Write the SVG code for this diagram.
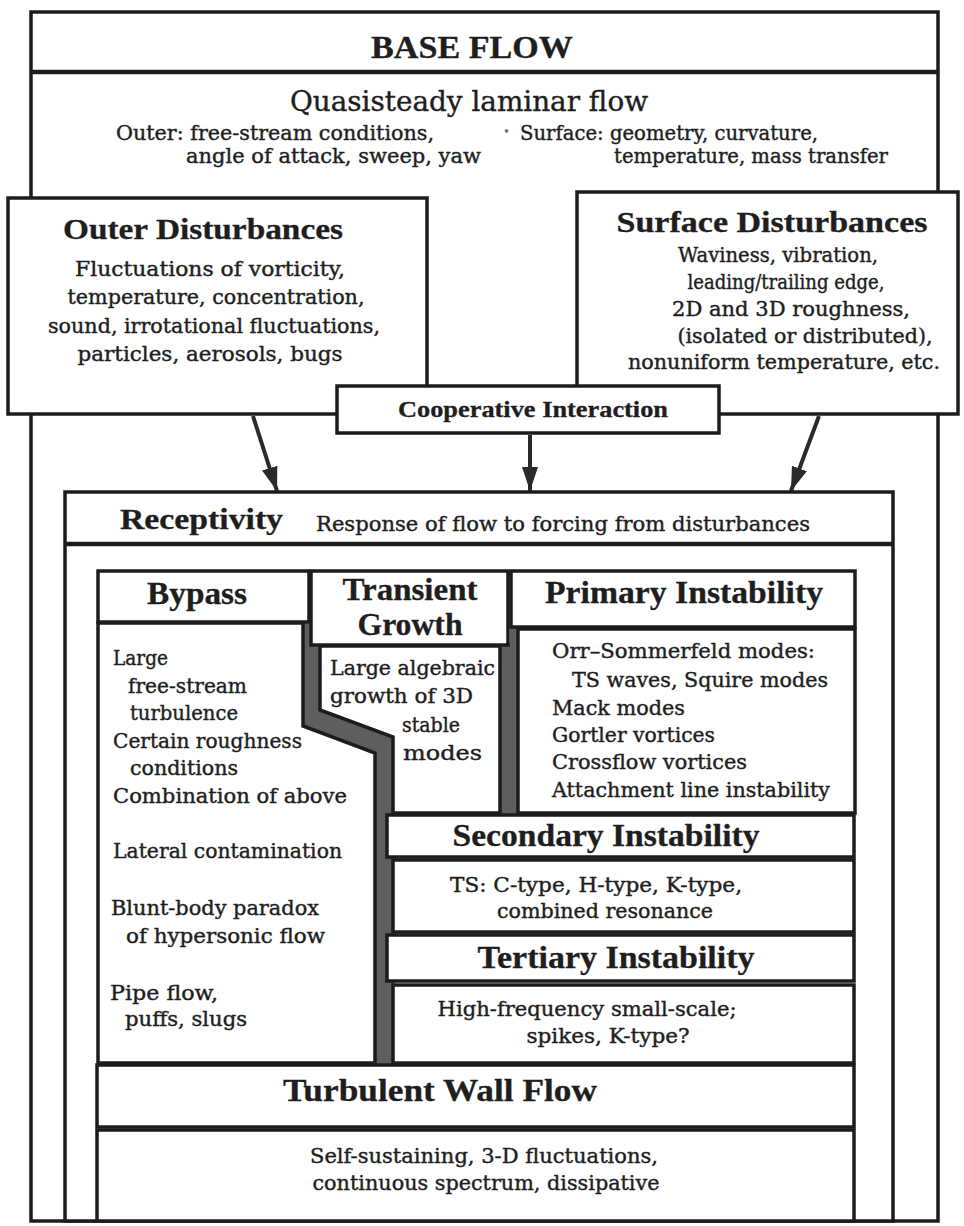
<svg xmlns="http://www.w3.org/2000/svg" width="964" height="1226" viewBox="0 0 964 1226" font-size="20">
<style>
.box{fill:#fff;stroke:#1c1c1c;stroke-width:3.5}
.sep{stroke:#1c1c1c;stroke-width:4.5}
.band{fill:#5e5e5e;stroke:none}
.arr{stroke:#2a2a2a;stroke-width:4;fill:none;marker-end:url(#ah)}
.b{font-family:"Liberation Serif","Times New Roman",serif;font-weight:bold;fill:#1e1e1e;stroke:#1e1e1e;stroke-width:0.3}
.t{font-family:"DejaVu Serif","Liberation Serif",serif;fill:#1e1e1e;stroke:#1e1e1e;stroke-width:0.4}
</style>
<defs>
<marker id="ah" markerUnits="userSpaceOnUse" markerWidth="24" markerHeight="16" refX="24" refY="8" orient="auto" viewBox="0 0 24 16">
<path d="M0,0 L24,8 L0,16 z" fill="#2a2a2a"/>
</marker>
</defs>
<rect width="964" height="1226" fill="#fff"/>

<g id="base-flow">
<rect class="box" x="31" y="12" width="907" height="1209"/>
<line class="sep" x1="31" y1="72" x2="938" y2="72"/>
<text class="b" x="472" y="58" font-size="31" text-anchor="middle" textLength="202" lengthAdjust="spacingAndGlyphs">BASE FLOW</text>
<text class="t" x="469" y="111" font-size="28" text-anchor="middle" textLength="358" lengthAdjust="spacingAndGlyphs">Quasisteady laminar flow</text>
<text class="t" x="116" y="140" textLength="318" lengthAdjust="spacingAndGlyphs">Outer: free-stream conditions,</text>
<text class="t" x="186" y="163" textLength="295" lengthAdjust="spacingAndGlyphs">angle of attack, sweep, yaw</text>
<text class="t" x="503" y="136" font-size="12" style="fill:#777;stroke:none">•</text>
<text class="t" x="520" y="140" textLength="298" lengthAdjust="spacingAndGlyphs">Surface: geometry, curvature,</text>
<text class="t" x="614" y="163" textLength="274" lengthAdjust="spacingAndGlyphs">temperature, mass transfer</text>
</g>

<g id="outer-disturbances">
<rect class="box" x="8" y="198" width="419" height="216"/>
<text class="b" x="203" y="239" font-size="30" text-anchor="middle" textLength="280" lengthAdjust="spacingAndGlyphs">Outer Disturbances</text>
<text class="t" x="210" y="276" text-anchor="middle" textLength="270" lengthAdjust="spacingAndGlyphs">Fluctuations of vorticity,</text>
<text class="t" x="216" y="304" text-anchor="middle" textLength="297" lengthAdjust="spacingAndGlyphs">temperature, concentration,</text>
<text class="t" x="214" y="333" text-anchor="middle" textLength="332" lengthAdjust="spacingAndGlyphs">sound, irrotational fluctuations,</text>
<text class="t" x="210" y="361" text-anchor="middle" textLength="265" lengthAdjust="spacingAndGlyphs">particles, aerosols, bugs</text>
</g>

<g id="surface-disturbances">
<rect class="box" x="577" y="192" width="381" height="222"/>
<text class="b" x="772" y="232" font-size="30" text-anchor="middle" textLength="311" lengthAdjust="spacingAndGlyphs">Surface Disturbances</text>
<text class="t" x="778" y="262" text-anchor="middle" textLength="200" lengthAdjust="spacingAndGlyphs">Waviness, vibration,</text>
<text class="t" x="786" y="289" text-anchor="middle" textLength="197" lengthAdjust="spacingAndGlyphs">leading/trailing edge,</text>
<text class="t" x="791" y="316" text-anchor="middle" textLength="238" lengthAdjust="spacingAndGlyphs">2D and 3D roughness,</text>
<text class="t" x="805" y="343" text-anchor="middle" textLength="255" lengthAdjust="spacingAndGlyphs">(isolated or distributed),</text>
<text class="t" x="784" y="369" text-anchor="middle" textLength="312" lengthAdjust="spacingAndGlyphs">nonuniform temperature, etc.</text>
</g>

<g id="cooperative-interaction">
<rect class="box" x="337" y="386" width="382" height="47"/>
<text class="b" x="533" y="417" font-size="23" text-anchor="middle" textLength="270" lengthAdjust="spacingAndGlyphs">Cooperative Interaction</text>
</g>

<g id="connectors">
<line class="arr" x1="253" y1="416" x2="277" y2="491"/>
<line class="arr" x1="530" y1="435" x2="530" y2="491"/>
<line class="arr" x1="819" y1="416" x2="791" y2="491"/>
</g>

<g id="receptivity">
<rect class="box" x="65" y="492" width="828" height="729"/>
<line class="sep" x1="65" y1="544" x2="893" y2="544"/>
<text class="b" x="120" y="529" font-size="29" textLength="163" lengthAdjust="spacingAndGlyphs">Receptivity</text>
<text class="t" x="316" y="531" textLength="494" lengthAdjust="spacingAndGlyphs">Response of flow to forcing from disturbances</text>
</g>

<g id="bands">
<polygon class="band" points="301,620 313,620 313,643 322,643 322,708 395,735 395,1065 373,1065 373,755 301,728"/>
<polygon class="band" points="498,643 510,643 510,625 520,625 520,815 498,815"/>
</g>

<g id="bypass">
<rect class="box" x="98" y="571" width="211" height="51"/>
<text class="b" x="197" y="604" font-size="31" text-anchor="middle" textLength="100" lengthAdjust="spacingAndGlyphs">Bypass</text>
<polygon class="box" points="98,623 303,623 303,726 375,753 375,1063 98,1063"/>
<text class="t" x="113" y="665" textLength="55" lengthAdjust="spacingAndGlyphs">Large</text>
<text class="t" x="128" y="693" textLength="119" lengthAdjust="spacingAndGlyphs">free-stream</text>
<text class="t" x="130" y="720" textLength="108" lengthAdjust="spacingAndGlyphs">turbulence</text>
<text class="t" x="113" y="748" textLength="189" lengthAdjust="spacingAndGlyphs">Certain roughness</text>
<text class="t" x="130" y="775" textLength="108" lengthAdjust="spacingAndGlyphs">conditions</text>
<text class="t" x="113" y="803" textLength="234" lengthAdjust="spacingAndGlyphs">Combination of above</text>
<text class="t" x="113" y="858" textLength="229" lengthAdjust="spacingAndGlyphs">Lateral contamination</text>
<text class="t" x="111" y="915" textLength="208" lengthAdjust="spacingAndGlyphs">Blunt-body paradox</text>
<text class="t" x="126" y="943" textLength="199" lengthAdjust="spacingAndGlyphs">of hypersonic flow</text>
<text class="t" x="110" y="1000" textLength="108" lengthAdjust="spacingAndGlyphs">Pipe flow,</text>
<text class="t" x="125" y="1026" textLength="122" lengthAdjust="spacingAndGlyphs">puffs, slugs</text>
</g>

<g id="transient-growth">
<rect class="box" x="311" y="571" width="197" height="74"/>
<text class="b" x="410" y="600" font-size="31" text-anchor="middle" textLength="135" lengthAdjust="spacingAndGlyphs">Transient</text>
<text class="b" x="410" y="635" font-size="31" text-anchor="middle" textLength="105" lengthAdjust="spacingAndGlyphs">Growth</text>
<polygon class="box" points="320,646 500,646 500,813 393,813 393,737 320,710"/>
<text class="t" x="330" y="675" textLength="165" lengthAdjust="spacingAndGlyphs">Large algebraic</text>
<text class="t" x="330" y="703" textLength="143" lengthAdjust="spacingAndGlyphs">growth of 3D</text>
<text class="t" x="402" y="732" textLength="58" lengthAdjust="spacingAndGlyphs">stable</text>
<text class="t" x="403" y="760" textLength="79" lengthAdjust="spacingAndGlyphs">modes</text>
</g>

<g id="primary-instability">
<rect class="box" x="511" y="571" width="344" height="56"/>
<text class="b" x="684" y="603" font-size="31" text-anchor="middle" textLength="278" lengthAdjust="spacingAndGlyphs">Primary Instability</text>
<rect class="box" x="518" y="629" width="337" height="184"/>
<text class="t" x="552" y="658" textLength="263" lengthAdjust="spacingAndGlyphs">Orr–Sommerfeld modes:</text>
<text class="t" x="572" y="687" textLength="256" lengthAdjust="spacingAndGlyphs">TS waves, Squire modes</text>
<text class="t" x="552" y="715" textLength="133" lengthAdjust="spacingAndGlyphs">Mack modes</text>
<text class="t" x="552" y="742" textLength="163" lengthAdjust="spacingAndGlyphs">Gortler vortices</text>
<text class="t" x="552" y="769" textLength="195" lengthAdjust="spacingAndGlyphs">Crossflow vortices</text>
<text class="t" x="552" y="797" textLength="278" lengthAdjust="spacingAndGlyphs">Attachment line instability</text>
</g>

<g id="secondary-instability">
<rect class="box" x="387" y="815" width="467" height="42"/>
<text class="b" x="606" y="846" font-size="31" text-anchor="middle" textLength="307" lengthAdjust="spacingAndGlyphs">Secondary Instability</text>
<rect class="box" x="393" y="860" width="461" height="72"/>
<text class="t" x="596" y="892" text-anchor="middle" textLength="292" lengthAdjust="spacingAndGlyphs">TS: C-type, H-type, K-type,</text>
<text class="t" x="605" y="918" text-anchor="middle" textLength="216" lengthAdjust="spacingAndGlyphs">combined resonance</text>
</g>

<g id="tertiary-instability">
<rect class="box" x="387" y="935" width="467" height="46"/>
<text class="b" x="616" y="968" font-size="31" text-anchor="middle" textLength="277" lengthAdjust="spacingAndGlyphs">Tertiary Instability</text>
<rect class="box" x="393" y="985" width="461" height="78"/>
<text class="t" x="587" y="1016" text-anchor="middle" textLength="299" lengthAdjust="spacingAndGlyphs">High-frequency small-scale;</text>
<text class="t" x="608" y="1043" text-anchor="middle" textLength="163" lengthAdjust="spacingAndGlyphs">spikes, K-type?</text>
</g>

<g id="turbulent-wall-flow">
<rect class="box" x="97" y="1065" width="757" height="62"/>
<text class="b" x="440" y="1101" font-size="32" text-anchor="middle" textLength="314" lengthAdjust="spacingAndGlyphs">Turbulent Wall Flow</text>
<rect class="box" x="97" y="1130" width="757" height="91"/>
<text class="t" x="484" y="1163" text-anchor="middle" textLength="348" lengthAdjust="spacingAndGlyphs">Self-sustaining, 3-D fluctuations,</text>
<text class="t" x="486" y="1190" text-anchor="middle" textLength="347" lengthAdjust="spacingAndGlyphs">continuous spectrum, dissipative</text>
</g>
</svg>
